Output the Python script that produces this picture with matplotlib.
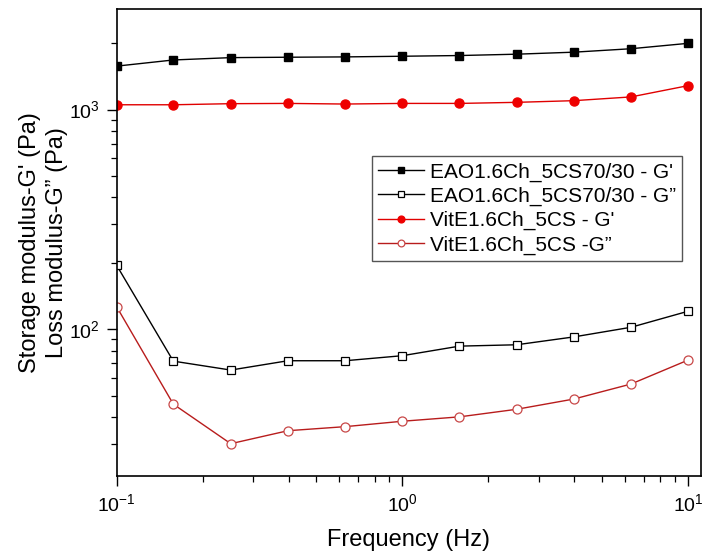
import matplotlib
matplotlib.use("Agg")
import matplotlib.pyplot as plt
from matplotlib.ticker import LogLocator, NullFormatter, FixedLocator, FixedFormatter

plt.rcParams["font.family"] = ["Liberation Sans", "DejaVu Sans"]
plt.rcParams["mathtext.fontset"] = "custom"
plt.rcParams["mathtext.rm"] = "Liberation Sans"
plt.rcParams["mathtext.it"] = "Liberation Sans:italic"

# data
freq = [0.1, 0.158, 0.251, 0.398, 0.631, 1.0, 1.585, 2.512, 3.981, 6.31, 10.0]
eao_g1 = [1575, 1680, 1722, 1729, 1735, 1747, 1760, 1785, 1823, 1890, 2000]
eao_g2 = [196, 71.7, 65.3, 72.0, 72.0, 75.9, 83.9, 85.1, 92.4, 102.2, 120.9]
vit_g1 = [1051, 1051, 1063, 1066, 1059, 1066, 1066, 1078, 1097, 1141, 1284]
vit_g2 = [127, 45.7, 30.2, 34.6, 36.1, 38.2, 40.0, 43.3, 48.2, 56.4, 72.5]

labels = ["EAO1.6Ch_5CS70/30 - G'", "EAO1.6Ch_5CS70/30 - G\u201d",
          "VitE1.6Ch_5CS - G'", "VitE1.6Ch_5CS -G\u201d"]

fig = plt.figure(figsize=(7.02, 5.53), dpi=100)
ax = fig.add_axes([0.166, 0.139, 0.832, 0.845])

ax.plot(freq, eao_g1, color="black", lw=1.0, marker="s", ms=5.5,
        mfc="black", mec="black", label=labels[0])
ax.plot(freq, eao_g2, color="black", lw=1.0, marker="s", ms=5.5,
        mfc="white", mec="black", mew=0.9, label=labels[1])
ax.plot(freq, vit_g1, color="#e00000", lw=1.0, marker="o", ms=6.5,
        mfc="#ee0000", mec="#ee0000", label=labels[2])
ax.plot(freq, vit_g2, color="#b81c1c", lw=1.0, marker="o", ms=6.5,
        mfc="white", mec="#c84848", mew=0.9, label=labels[3])

ax.set_xscale("log")
ax.set_yscale("log")
ax.set_xlim(0.1, 11.06)
ax.set_ylim(21.5, 2870)

ax.xaxis.set_major_locator(FixedLocator([0.1, 1, 10]))
ax.xaxis.set_major_formatter(FixedFormatter([r"$10^{\mathrm{-}1}$", r"$10^{0}$", r"$10^{1}$"]))
ax.yaxis.set_major_locator(FixedLocator([100, 1000]))
ax.yaxis.set_major_formatter(FixedFormatter([r"$10^{2}$", r"$10^{3}$"]))
ax.xaxis.set_minor_locator(LogLocator(base=10, subs=range(2, 10)))
ax.yaxis.set_minor_locator(LogLocator(base=10, subs=range(2, 10)))
ax.xaxis.set_minor_formatter(NullFormatter())
ax.yaxis.set_minor_formatter(NullFormatter())

ax.tick_params(which="major", direction="out", length=7, width=1.0, labelsize=14,
               top=False, right=False, pad=5)
ax.tick_params(which="minor", direction="out", length=4, width=0.9,
               top=False, right=False)

for sp in ax.spines.values():
    sp.set_linewidth(1.2)
    sp.set_color("black")

ax.set_xlabel("Frequency (Hz)", fontsize=17, labelpad=10)
ax.set_ylabel("Storage modulus-G' (Pa)\nLoss modulus-G\u201d (Pa)", fontsize=17,
              labelpad=1, linespacing=1.25)

leg = ax.legend(loc="upper left", bbox_to_anchor=(0.437, 0.685), borderaxespad=0,
                fontsize=15, frameon=True, fancybox=False, edgecolor="#555555",
                framealpha=1, labelspacing=0.25, handlelength=2.2, handletextpad=0.3,
                borderpad=0.3, markerscale=0.75)
leg.get_frame().set_linewidth(1.0)

fig.savefig("out.png", dpi=100)
